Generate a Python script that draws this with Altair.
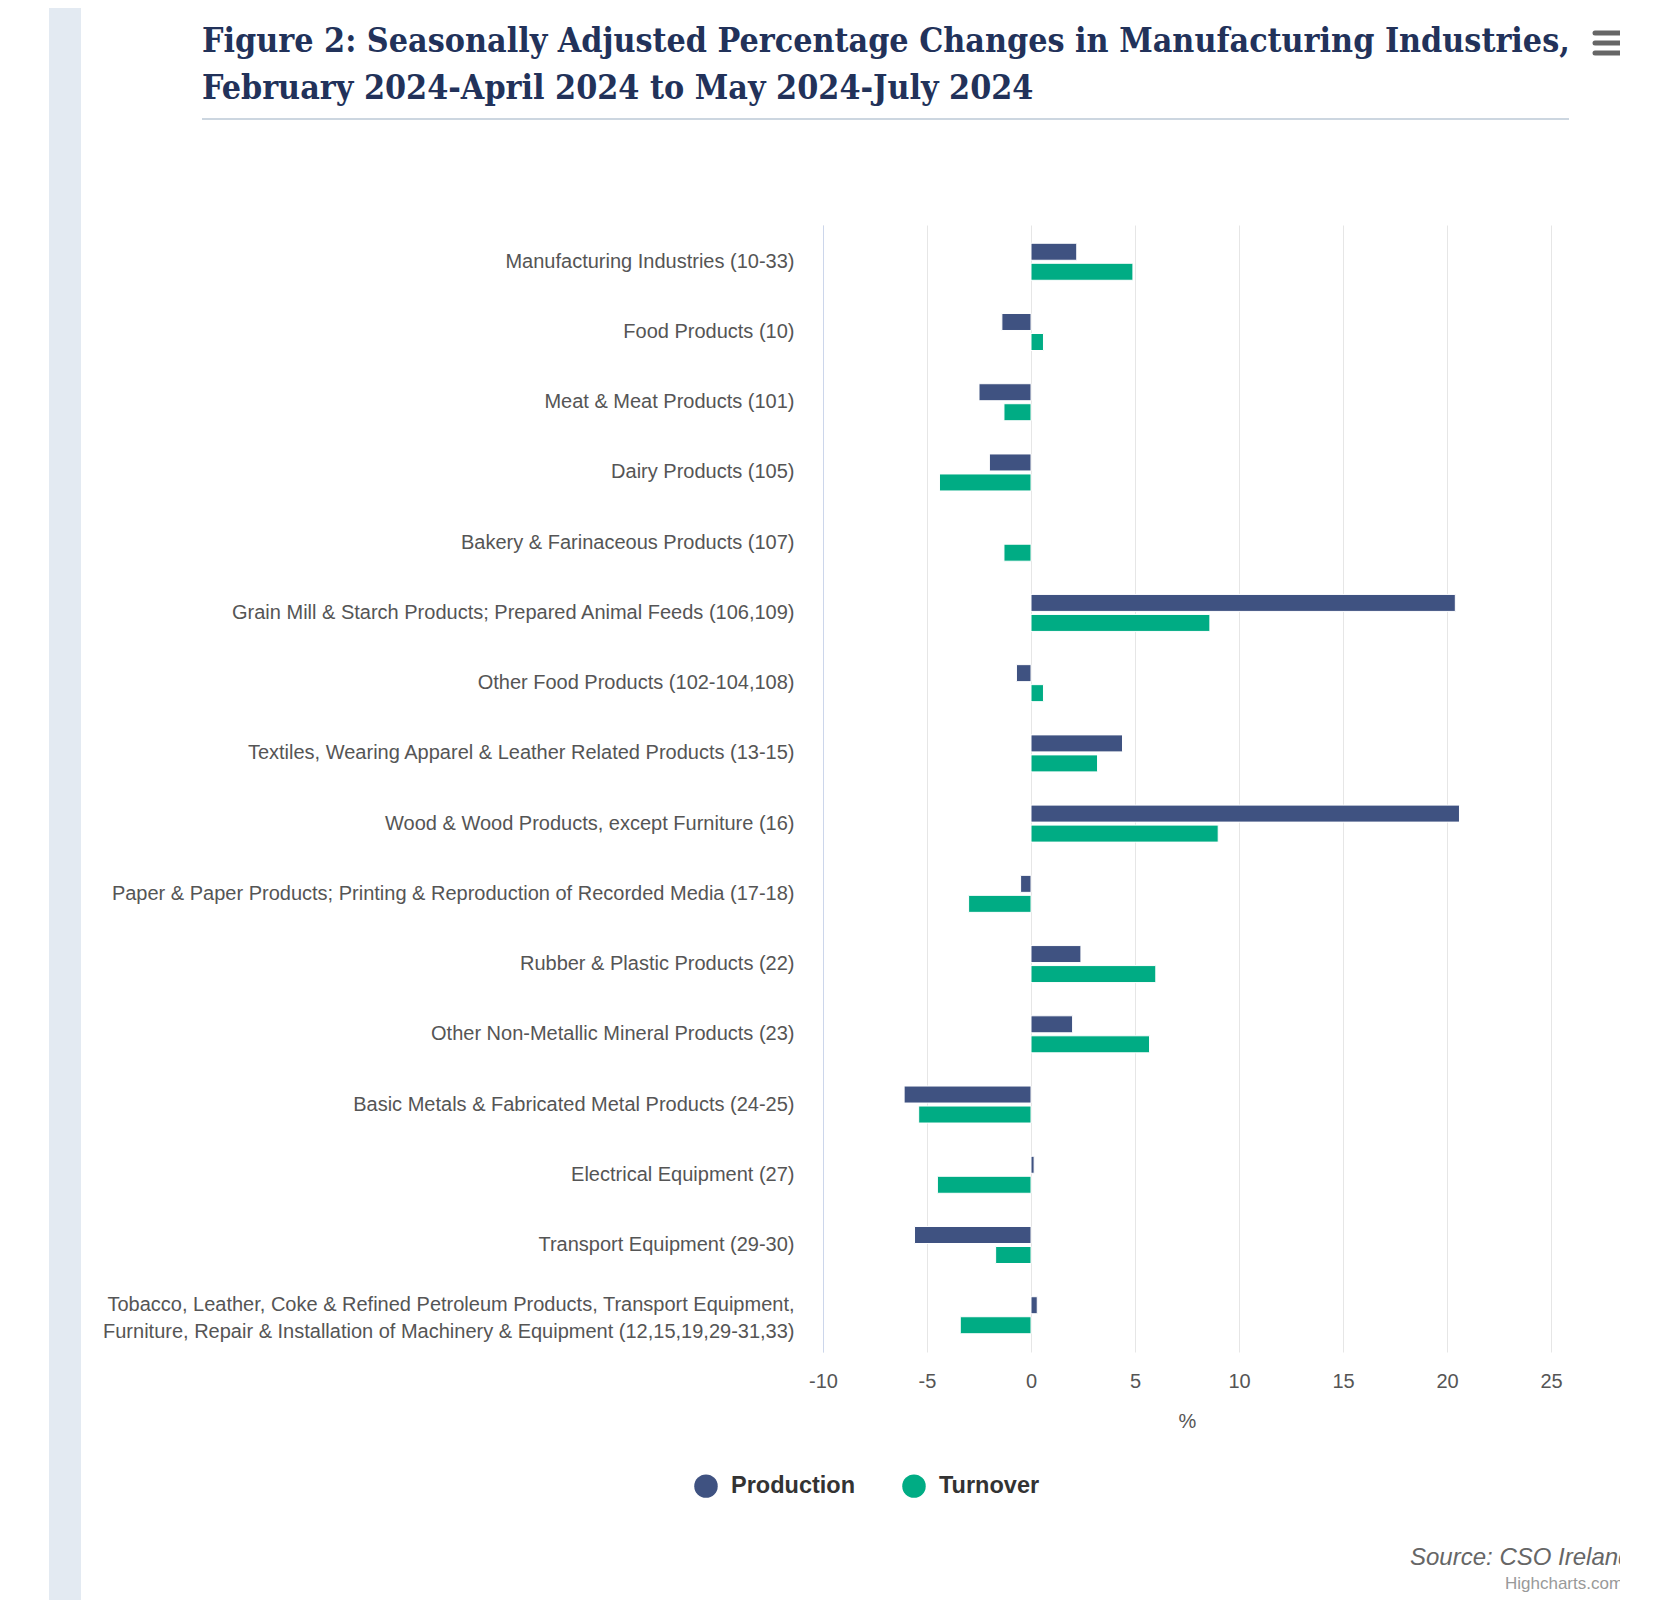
import altair as alt
import pandas as pd

categories = [
    "Manufacturing Industries (10-33)",
    "Food Products (10)",
    "Meat & Meat Products (101)",
    "Dairy Products (105)",
    "Bakery & Farinaceous Products (107)",
    "Grain Mill & Starch Products; Prepared Animal Feeds (106,109)",
    "Other Food Products (102-104,108)",
    "Textiles, Wearing Apparel & Leather Related Products (13-15)",
    "Wood & Wood Products, except Furniture (16)",
    "Paper & Paper Products; Printing & Reproduction of Recorded Media (17-18)",
    "Rubber & Plastic Products (22)",
    "Other Non-Metallic Mineral Products (23)",
    "Basic Metals & Fabricated Metal Products (24-25)",
    "Electrical Equipment (27)",
    "Transport Equipment (29-30)",
    "Tobacco, Leather, Coke & Refined Petroleum Products, Transport Equipment,\nFurniture, Repair & Installation of Machinery & Equipment (12,15,19,29-31,33)",
]
production = [2.2, -1.4, -2.5, -2.0, None, 20.4, -0.7, 4.4, 20.6, -0.5, 2.4, 2.0, -6.1, 0.15, -5.6, 0.3]
turnover = [4.9, 0.6, -1.3, -4.4, -1.3, 8.6, 0.6, 3.2, 9.0, -3.0, 6.0, 5.7, -5.4, -4.5, -1.7, -3.4]
series = ["Production", "Turnover"]
colors = ["#3f5281", "#00ac84"]
x_ticks = [-10, -5, 0, 5, 10, 15, 20, 25]

rows = []
for c, p, t in zip(categories, production, turnover):
    if p is not None:
        rows.append({"category": c, "series": "Production", "value": p})
    if t is not None:
        rows.append({"category": c, "series": "Turnover", "value": t})
df = pd.DataFrame(rows)

FONT = "Liberation Sans"

bars = alt.Chart(df).mark_bar(stroke="white", strokeWidth=1).encode(
    y=alt.Y("category:N", sort=categories,
            scale=alt.Scale(paddingInner=0.473, paddingOuter=0.26),
            axis=alt.Axis(title=None, ticks=False, labelPadding=29, labelFontSize=20,
                          labelColor="#555555", labelFont=FONT, labelLimit=900,
                          labelLineHeight=27, domain=True, domainColor="#ccd6eb",
                          grid=False,
                          labelOffset={"condition": {"test": "indexof(datum.value, '\\n') >= 0", "value": -10}, "value": 0},
                          labelExpr="split(datum.label, '\\n')")),
    yOffset=alt.YOffset("series:N", sort=series, scale=alt.Scale(paddingInner=0.15)),
    x=alt.X("value:Q", scale=alt.Scale(domain=[-10, 25], nice=False, zero=False),
            axis=alt.Axis(values=x_ticks, title="%", domain=False, ticks=False,
                          grid=True, gridColor="#e6e6e6", gridWidth=1,
                          labelExpr="'' + datum.value", labelFlush=False,
                          labelFontSize=20, labelColor="#555555", labelFont=FONT,
                          labelPadding=19, titleFontSize=20, titleColor="#555555",
                          titleFont=FONT, titleFontWeight="normal", titlePadding=20)),
    color=alt.Color("series:N", sort=series,
                    scale=alt.Scale(domain=series, range=colors),
                    legend=alt.Legend(title=None, orient="none", legendX=-129, legendY=1249,
                                      direction="horizontal", symbolType="circle",
                                      symbolSize=550, symbolStrokeWidth=0,
                                      labelFontSize=23.5, labelFontWeight="bold",
                                      labelColor="#333333", labelFont=FONT,
                                      labelOffset=13, columnPadding=46, padding=0)),
)

one = pd.DataFrame({"a": [0]})

band = alt.Chart(one).mark_rect(color="#e3eaf2").encode(
    x=alt.value(-774), x2=alt.value(-742), y=alt.value(-230), y2=alt.value(1375))

title = alt.Chart(pd.DataFrame({"t": ["Figure 2: Seasonally Adjusted Percentage Changes in Manufacturing Industries,\nFebruary 2024-April 2024 to May 2024-July 2024"]})).mark_text(
    align="left", baseline="middle", font="DejaVu Serif Condensed, DejaVu Serif", fontWeight="bold",
    fontSize=33.7, color="#22325a", lineBreak="\n", lineHeight=47).encode(
    text="t:N", x=alt.value(-621), y=alt.value(-183))

underline = alt.Chart(one).mark_rule(color="#ccd6e0", strokeWidth=2).encode(
    x=alt.value(-621), x2=alt.value(746), y=alt.value(-106))

menu_layers = []
for yy in [-192, -182, -172]:
    menu_layers.append(alt.Chart(one).mark_rule(color="#666666", strokeWidth=5, strokeCap="round").encode(
        x=alt.value(772), x2=alt.value(802), y=alt.value(yy)))

source = alt.Chart(pd.DataFrame({"t": ["Source: CSO Ireland"]})).mark_text(
    align="left", baseline="middle", font=FONT, fontStyle="italic", fontSize=24,
    color="#666666").encode(text="t:N", x=alt.value(587), y=alt.value(1333))

credit = alt.Chart(pd.DataFrame({"t": ["Highcharts.com"]})).mark_text(
    align="left", baseline="middle", font=FONT, fontSize=17,
    color="#999999").encode(text="t:N", x=alt.value(682), y=alt.value(1359))

chart = alt.layer(band, bars, title, underline, *menu_layers, source, credit).properties(
    width=728, height=1127,
    autosize=alt.AutoSizeParams(type="none"),
    padding={"left": 815, "top": 217, "right": 69, "bottom": 250},
    background="white",
).configure_view(stroke=None)

chart.save("out.html", embed_options={"renderer": "svg", "actions": False})
